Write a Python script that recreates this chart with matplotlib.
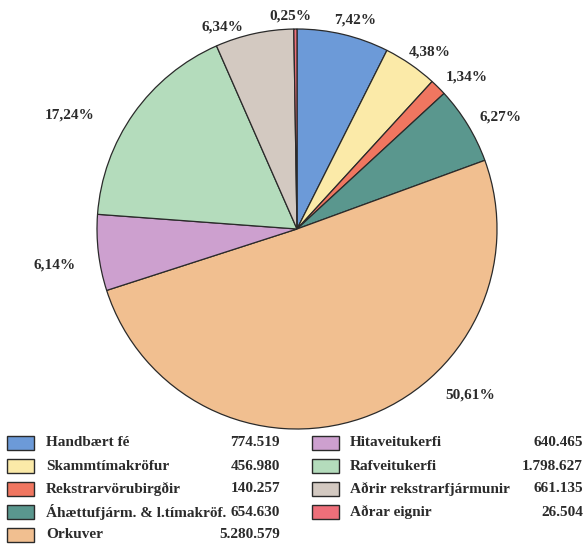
import matplotlib
matplotlib.use("Agg")
import matplotlib.pyplot as plt
from matplotlib.patches import Rectangle

categories = ["Handbært fé", "Skammtímakröfur", "Rekstrarvörubirgðir",
              "Áhættufjárm. & l.tímakröf.", "Orkuver", "Hitaveitukerfi",
              "Rafveitukerfi", "Aðrir rekstrarfjármunir", "Aðrar eignir"]
values = [774519, 456980, 140257, 654630, 5280579, 640465, 1798627, 661135, 26504]
value_labels = ["774.519", "456.980", "140.257", "654.630", "5.280.579",
                "640.465", "1.798.627", "661.135", "26.504"]
colors = ["#6c9ad8", "#fbeaa8", "#f07660", "#5a978e", "#f1bf90",
          "#cda0cf", "#b4dcbc", "#d3c9c1", "#ee6f7a"]
pct_labels = ["7,42%", "4,38%", "1,34%", "6,27%", "50,61%",
              "6,14%", "17,24%", "6,34%", "0,25%"]
# label positions (pixels, from top-left)
pct_pos = [(355, 20), (430, 52), (467, 77), (500, 117), (470, 395),
           (55, 265), (70, 115), (222, 27), (290, 16)]

W, H = 585, 545
fig = plt.figure(figsize=(W / 100, H / 100), dpi=100)
ax = fig.add_axes([0, 0, 1, 1])

FONT = dict(family="Liberation Serif", weight="bold", color="#2b2b2b")

cx, cy, R = 297, 229, 200
ax.pie(values, colors=colors, startangle=90, counterclock=False,
       center=(cx, H - cy), radius=R, frame=True,
       wedgeprops=dict(edgecolor="#2a2a2a", linewidth=0.9))
ax.set_xlim(0, W)
ax.set_ylim(0, H)
ax.set_aspect("auto")
ax.axis("off")

for lab, (px, py) in zip(pct_labels, pct_pos):
    ax.text(px, H - py, lab, ha="center", va="center", fontsize=11, **FONT)

# legend
rows = 5
row_y0, row_dy = 443, 23
cols = [dict(sx=7, tx=46, vx=280), dict(sx=312, tx=350, vx=583)]
for i, (cat, vl, col) in enumerate(zip(categories, value_labels, colors)):
    c = cols[i // rows]
    y = row_y0 + (i % rows) * row_dy
    ax.add_patch(Rectangle((c["sx"], H - y - 7), 27, 14, facecolor=col,
                           edgecolor="#2a2a2a", linewidth=1.0))
    ax.text(c["tx"], H - y, cat, ha="left", va="center", fontsize=11, **FONT)
    ax.text(c["vx"], H - y, vl, ha="right", va="center", fontsize=11, **FONT)

fig.savefig("out.png", dpi=100, facecolor="white")
